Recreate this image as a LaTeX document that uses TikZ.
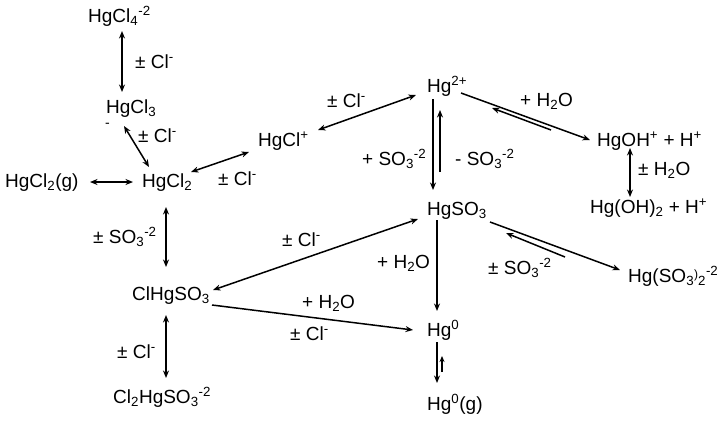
\documentclass[tikz,border=0pt]{standalone}
\usepackage{fontspec}
\setmainfont{Liberation Sans}
\usetikzlibrary{arrows.meta}
\tikzset{
  chem/.style={inner sep=0pt, anchor=base west, font=\fontsize{19}{22}\selectfont},
  lbl/.style={inner sep=0pt, anchor=base west, font=\fontsize{19}{22}\selectfont},
  conn/.style={line width=1.5pt, -{Stealth[length=7.5pt,width=6pt]}},
  dconn/.style={line width=1.5pt, {Stealth[length=7.5pt,width=6pt]}-{Stealth[length=7.5pt,width=6pt]}},
}
\newcommand{\sub}[1]{\textsubscript{#1}}
\newcommand{\spr}[1]{\textsuperscript{#1}}
\begin{document}
\begin{tikzpicture}[x=1pt,y=-1pt]
\useasboundingbox (0,0) rectangle (727,421);
% species
\node[chem] (hgcl4) at (88,22) {HgCl\sub{4}\spr{-2}};
\node[chem] (hgcl3) at (106,113) {HgCl\sub{3}};
\node[chem, font=\fontsize{14}{16}\selectfont] (hgcl3m) at (105,127) {-};
\node[chem] (hgcl2) at (142,187) {HgCl\sub{2}};
\node[chem] (hgcl2g) at (5,187) {HgCl\sub{2}(g)};
\node[chem] (hgclp) at (258,146) {HgCl\spr{+}};
\node[chem] (hg2p) at (427,92) {Hg\spr{2+}};
\node[chem] (hgohp) at (597,146) {HgOH\spr{+} + H\spr{+}};
\node[chem] (hgoh2) at (590,213) {Hg(OH)\sub{2} + H\spr{+}};
\node[chem] (hgso3) at (427,215) {HgSO\sub{3}};
\node[chem] (hgso32) at (628,282) {Hg(SO\sub{3}\raisebox{4pt}{\fontsize{12}{14}\selectfont )}\sub{2}\spr{-2}};
\node[chem] (clhgso3) at (132,300) {ClHgSO\sub{3}};
\node[chem] (cl2hgso3) at (113,403) {Cl\sub{2}HgSO\sub{3}\spr{-2}};
\node[chem] (hg0) at (427,336) {Hg\spr{0}};
\node[chem] (hg0g) at (427,410) {Hg\spr{0}(g)};
% labels
\node[lbl] (l1) at (135,68) {± Cl\spr{-}};
\node[lbl] (l2) at (138,142) {± Cl\spr{-}};
\node[lbl] (l3) at (218,185) {± Cl\spr{-}};
\node[lbl] (l4) at (327,107) {± Cl\spr{-}};
\node[lbl] (l5) at (362,165) {+ SO\sub{3}\spr{-2}};
\node[lbl] (l6) at (455,165) {- SO\sub{3}\spr{-2}};
\node[lbl] (l7) at (520,106) {+ H\sub{2}O};
\node[lbl] (l8) at (638,175) {± H\sub{2}O};
\node[lbl] (l9) at (93,243) {± SO\sub{3}\spr{-2}};
\node[lbl] (l10) at (282,246) {± Cl\spr{-}};
\node[lbl] (l11) at (377,268) {+ H\sub{2}O};
\node[lbl] (l12) at (302,308) {+ H\sub{2}O};
\node[lbl] (l13) at (290,340) {± Cl\spr{-}};
\node[lbl] (l14) at (117,358) {± Cl\spr{-}};
\node[lbl] (l15) at (488,274) {± SO\sub{3}\spr{-2}};
% connectors
\draw[dconn] ([shift={(34,9)}]hgcl4.base west) -- ([shift={(16,-21)}]hgcl3.base west);
\draw[dconn] ([shift={(18,13)}]hgcl3.base west) -- ([shift={(7,-20)}]hgcl2.base west);
\draw[dconn] ([shift={(85,-5)}]hgcl2g.base west) -- ([shift={(-9,-5)}]hgcl2.base west);
\draw[dconn] ([shift={(49,-15)}]hgcl2.base west) -- ([shift={(-9,6)}]hgclp.base west);
\draw[dconn] ([shift={(60,-16)}]hgclp.base west) -- ([shift={(-11,3)}]hg2p.base west);
\draw[conn] ([shift={(6,7)}]hg2p.base west) -- ([shift={(6,-25)}]hgso3.base west);
\draw[conn] ([shift={(13,-43)}]hgso3.base west) -- ([shift={(13,18)}]hg2p.base west);
\draw[conn] ([shift={(34,1)}]hg2p.base west) -- ([shift={(-7,-6)}]hgohp.base west);
\draw[conn] ([shift={(-46,-16)}]hgohp.base west) -- ([shift={(65,16)}]hg2p.base west);
\draw[dconn] ([shift={(33,2)}]hgohp.base west) -- ([shift={(40,-16)}]hgoh2.base west);
\draw[dconn] ([shift={(81,-10)}]clhgso3.base west) -- ([shift={(-9,4)}]hgso3.base west);
\draw[conn] ([shift={(80,5)}]clhgso3.base west) -- ([shift={(-14,-6)}]hg0.base west);
\draw[conn] ([shift={(10,5)}]hgso3.base west) -- ([shift={(10,-25)}]hg0.base west);
\draw[conn] ([shift={(63,7)}]hgso3.base west) -- ([shift={(-8,-12)}]hgso32.base west);
\draw[conn] ([shift={(-63,-25)}]hgso32.base west) -- ([shift={(79,18)}]hgso3.base west);
\draw[dconn] ([shift={(24,20)}]hgcl2.base west) -- ([shift={(34,-33)}]clhgso3.base west);
\draw[dconn] ([shift={(34,15)}]clhgso3.base west) -- ([shift={(53,-25)}]cl2hgso3.base west);
\draw[conn] ([shift={(10,6)}]hg0.base west) -- ([shift={(10,-27)}]hg0g.base west);
\draw[line width=1.3pt, -{Stealth[length=6pt,width=5pt]}] ([shift={(15,-38)}]hg0g.base west) -- ([shift={(15,20)}]hg0.base west);
\end{tikzpicture}
\end{document}
